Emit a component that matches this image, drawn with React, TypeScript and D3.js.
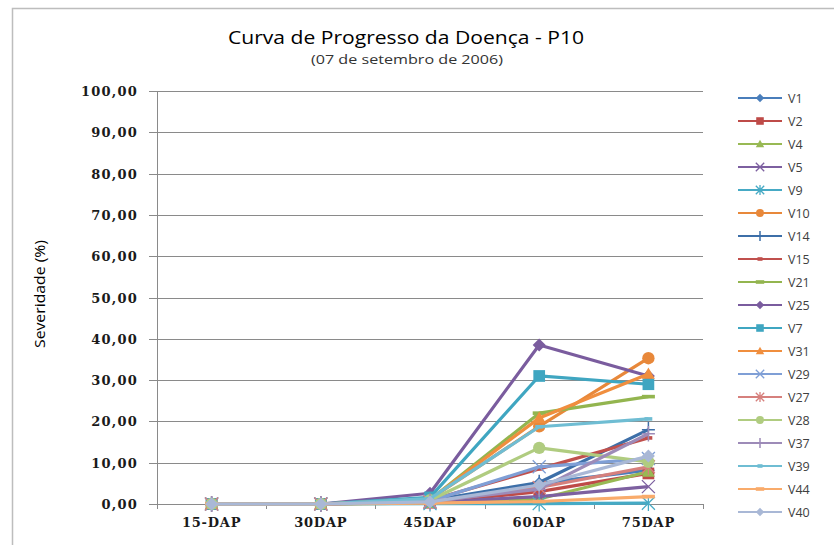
import React from 'react';
import * as d3 from 'd3';

// categories on the x axis (days after planting)
const categories = ['15-DAP', '30DAP', '45DAP', '60DAP', '75DAP'];
const yTicks = [0, 10, 20, 30, 40, 50, 60, 70, 80, 90, 100];

// severity (%) per variety
const v1 = [0, 0, 0.6, 5.0, 8.2];
const v2 = [0, 0, 0.3, 3.0, 7.4];
const v4 = [0, 0, 0.2, 1.2, 7.8];
const v5 = [0, 0, 0.4, 1.8, 4.2];
const v9 = [0, 0, 0.1, 0.1, 0.2];
const v10 = [0, 0, 1.2, 18.8, 35.3];
const v14 = [0, 0, 0.8, 5.2, 18.0];
const v15 = [0, 0, 0.9, 8.5, 16.0];
const v21 = [0, 0, 1.0, 22.0, 26.0];
const v25 = [0, 0, 2.6, 38.5, 31.0];
const v7 = [0, 0, 1.6, 31.0, 29.0];
const v31 = [0, 0, 1.1, 20.8, 31.5];
const v29 = [0, 0, 0.7, 9.0, 11.0];
const v27 = [0, 0, 0.5, 4.0, 9.0];
const v28 = [0, 0, 0.9, 13.6, 10.2];
const v37 = [0, 0, 0.6, 3.6, 17.0];
const v39 = [0, 0, 1.3, 18.7, 20.6];
const v44 = [0, 0, 0.2, 0.6, 1.8];
const v40 = [0, 0, 0.5, 4.6, 11.6];

const seriesNames = ['V1', 'V2', 'V4', 'V5', 'V9', 'V10', 'V14', 'V15', 'V21', 'V25',
    'V7', 'V31', 'V29', 'V27', 'V28', 'V37', 'V39', 'V44', 'V40'];
const seriesValues = [v1, v2, v4, v5, v9, v10, v14, v15, v21, v25,
    v7, v31, v29, v27, v28, v37, v39, v44, v40];

// excel 2007 style palette
const seriesColors = ['#4a7ebb', '#be4b48', '#98b954', '#7d60a0', '#46aac5', '#e8883a',
    '#3d6fa8', '#c0504d', '#93b54f', '#7a5c9e', '#3fa6c1', '#f08e3e',
    '#7f9fd6', '#d6807d', '#b0cc80', '#9d8bb8', '#6fbdd3', '#f9ab6b', '#a9b8d6'];
const markerCycle = ['diamond', 'square', 'triangle', 'x', 'star', 'circle', 'plus', 'dash', 'longdash'];

const W = 834, H = 545;
const margin = {top: 91, left: 157, right: 131, bottom: 41};

// marker shapes, s = half size
function marker(kind, x, y, s, color, key) {
    switch (kind) {
        case 'diamond':
            return <path key={key} d={`M${x},${y - s}L${x + s},${y}L${x},${y + s}L${x - s},${y}Z`} fill={color} />;
        case 'square':
            return <rect key={key} x={x - s * 0.9} y={y - s * 0.9} width={s * 1.8} height={s * 1.8} fill={color} />;
        case 'triangle':
            return <path key={key} d={`M${x},${y - s}L${x + s},${y + s * 0.75}L${x - s},${y + s * 0.75}Z`} fill={color} />;
        case 'circle':
            return <circle key={key} cx={x} cy={y} r={s * 0.95} fill={color} />;
        case 'x':
            return <path key={key} d={`M${x - s},${y - s}L${x + s},${y + s}M${x - s},${y + s}L${x + s},${y - s}`} stroke={color} strokeWidth={1.3} fill="none" />;
        case 'star':
            return <path key={key} d={`M${x - s},${y - s}L${x + s},${y + s}M${x - s},${y + s}L${x + s},${y - s}M${x},${y - s * 1.2}L${x},${y + s * 1.2}`} stroke={color} strokeWidth={1.3} fill="none" />;
        case 'plus':
            return <path key={key} d={`M${x - s},${y}L${x + s},${y}M${x},${y - s * 1.2}L${x},${y + s * 1.2}`} stroke={color} strokeWidth={1.5} fill="none" />;
        case 'dash':
            return <rect key={key} x={x - s * 0.6} y={y - 1.8} width={s * 1.2} height={3.6} fill={color} />;
        default:
            return <rect key={key} x={x - s} y={y - 1.8} width={s * 2} height={3.6} fill={color} />;
    }
}

export default function App() {
    const x = d3.scaleBand().domain(categories).range([margin.left, W - margin.right]);
    const y = d3.scaleLinear().domain([0, 100]).range([H - margin.bottom, margin.top]);
    const cx = (c) => x(c) + x.bandwidth() / 2;
    const line = d3.line().x((d, i) => cx(categories[i])).y((d) => y(d));
    const fmt = (v) => d3.format('.2f')(v).replace('.', ',');
    const plotBottom = y(0);
    const plotRight = W - margin.right;

    return (
        <svg width={W} height={H} style={{position: 'absolute', left: 0, top: 0}}>
            <rect x={0} y={0} width={W} height={H} fill="white" />
            <rect x={12.5} y={8.5} width={W} height={H} fill="none" stroke="#bdbdbd" strokeWidth={1.5} />

            <text x={406} y={44} textAnchor="middle" fontFamily="Open Sans" fontSize={18}
                textLength={356} lengthAdjust="spacingAndGlyphs" fill="#000">Curva de Progresso da Doença - P10</text>
            <text x={407} y={64} textAnchor="middle" fontFamily="Open Sans" fontSize={13}
                textLength={192} lengthAdjust="spacingAndGlyphs" fill="#333">(07 de setembro de 2006)</text>

            {/* gridlines and y ticks */}
            {yTicks.map((t) => (
                <g key={t}>
                    <line x1={margin.left - 8} x2={plotRight} y1={Math.round(y(t)) + 0.5} y2={Math.round(y(t)) + 0.5} stroke="#8a8a8a" strokeWidth={1} />
                    <text x={138} y={y(t) + 5} textAnchor="end" fontFamily="DejaVu Serif" fontWeight="bold"
                        fontSize={13} letterSpacing={1.2} fill="#1a1a1a">{fmt(t)}</text>
                </g>
            ))}
            <line x1={margin.left + 0.5} x2={margin.left + 0.5} y1={margin.top} y2={plotBottom} stroke="#8a8a8a" />
            {/* x ticks between categories */}
            {d3.range(categories.length + 1).map((i) => {
                const xx = Math.round(margin.left + i * x.step()) + 0.5;
                return <line key={i} x1={xx} x2={xx} y1={plotBottom} y2={plotBottom + 5} stroke="#8a8a8a" />;
            })}
            {categories.map((c) => (
                <text key={c} x={cx(c)} y={527} textAnchor="middle" fontFamily="DejaVu Serif" fontWeight="bold"
                    fontSize={13} letterSpacing={0.8} fill="#1a1a1a">{c}</text>
            ))}

            <text transform={`translate(45,${294}) rotate(-90)`} textAnchor="middle" fontFamily="Open Sans"
                fontSize={15} textLength={108} lengthAdjust="spacingAndGlyphs" fill="#000">Severidade (%)</text>

            {/* series */}
            {seriesValues.map((vals, si) => (
                <g key={seriesNames[si]}>
                    <path d={line(vals)} fill="none" stroke={seriesColors[si]} strokeWidth={3.2} strokeLinejoin="round" />
                    {vals.map((v, i) => marker(markerCycle[si % markerCycle.length], cx(categories[i]), y(v), 6.5, seriesColors[si], i))}
                </g>
            ))}

            {/* legend */}
            {seriesNames.map((n, si) => {
                const ly = 98 + si * 23;
                return (
                    <g key={n}>
                        <line x1={738} x2={782} y1={ly} y2={ly} stroke={seriesColors[si]} strokeWidth={2.2} />
                        {marker(markerCycle[si % markerCycle.length], 760, ly, 4.2, seriesColors[si], 'm')}
                        <text x={788} y={ly + 4.5} fontFamily="Open Sans" fontSize={12.5} fill="#404040">{n}</text>
                    </g>
                );
            })}
        </svg>
    );
}
